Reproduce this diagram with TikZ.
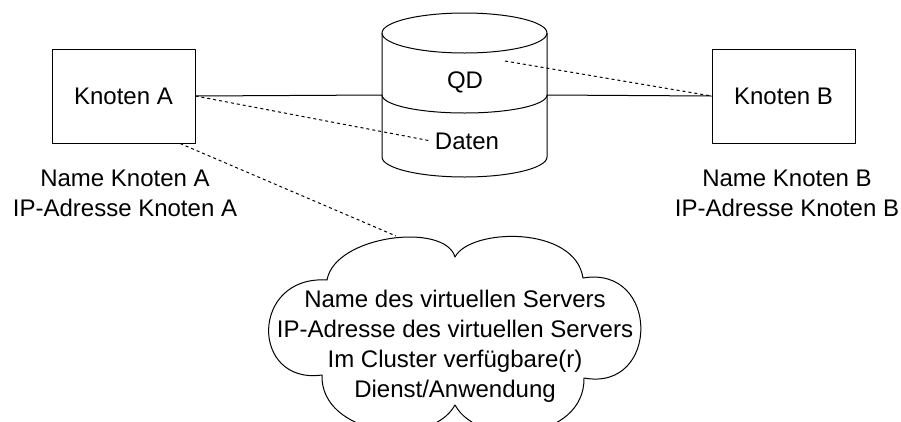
\documentclass[tikz,border=0pt]{standalone}
\usepackage{fontspec}
\setmainfont{Liberation Sans}
\tikzset{
  knoten/.style={draw, minimum width=143pt, minimum height=94pt},
  info/.style={align=center, inner sep=0pt},
  link/.style={dash pattern=on 3pt off 3pt},
}
\begin{document}
\begin{tikzpicture}[x=1pt, y=-1pt, font=\fontsize{24}{30}\selectfont, line width=1pt, line join=round, line cap=butt]
\def\cx{464.5} \def\rx{82.5} \def\ry{20}
\useasboundingbox (0,0) rectangle (901,421);
\node[knoten] (ka) at (123.5,96) {Knoten A};
\node[knoten] (kb) at (783.5,96) {Knoten B};
\node[info, anchor=north] (kainfo) at (125,169) {Name Knoten A\\IP-Adresse Knoten A};
\node[info, anchor=north] (kbinfo) at (787,169) {Name Knoten B\\IP-Adresse Knoten B};
% Quorum-Datentraeger
\draw (\cx-\rx,33) -- (\cx-\rx,157) arc[start angle=180, end angle=0, x radius=\rx, y radius=\ry] -- (\cx+\rx,33);
\draw (\cx,33) ellipse[x radius=\rx, y radius=\ry];
\draw (\cx-\rx,95) arc[start angle=180, end angle=0, x radius=\rx, y radius=18];
\coordinate (qdw) at (\cx-\rx,95);
\coordinate (qde) at (\cx+\rx,95);
\coordinate (qdlink) at (505,61);
\node (qd) at (465,82) {QD};
\node (daten) at (467,141) {Daten};
% virtueller Server (Wolke)
\draw (327,280) .. controls (335,235) and (445,222) .. (455,257)
  .. controls (470,228) and (575,225) .. (583,278)
  .. controls (660,265) and (660,392) .. (584,378)
  .. controls (585,440) and (480,450) .. (455,405)
  .. controls (430,450) and (320,435) .. (322,375)
  .. controls (250,385) and (250,275) .. cycle;
\coordinate (vstop) at (396,236);
\node[info] (vs) at (455,346) {Name des virtuellen Servers\\IP-Adresse des virtuellen Servers\\Im Cluster verfügbare(r)\\Dienst/Anwendung};
\draw (ka.east) -- (qdw);
\draw (qde) -- (kb.west);
\draw[link] (ka.east) -- (daten.west);
\draw[link] (qdlink) -- (kb.west);
\draw[link] (ka.-40) -- (vstop);
\end{tikzpicture}
\end{document}
